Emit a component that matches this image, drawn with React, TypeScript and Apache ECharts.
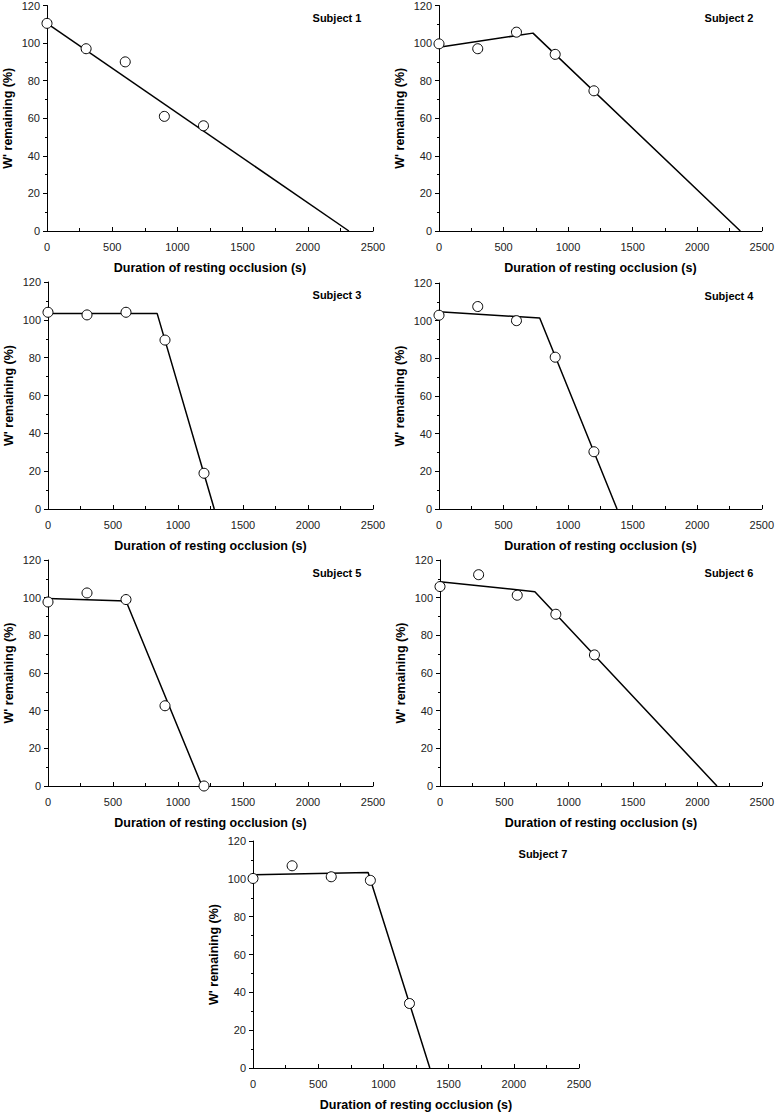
import React, { useEffect, useRef } from "react";
import * as echarts from "echarts";

const xTimes = [0, 300, 600, 900, 1200];
const subjectNames = ["Subject 1", "Subject 2", "Subject 3", "Subject 4", "Subject 5", "Subject 6", "Subject 7"];

const s1Points = [110.5, 97, 90, 61, 56];
const s2Points = [99.6, 97, 105.8, 94, 74.6];
const s3Points = [104, 102.6, 104, 89.3, 18.9];
const s4Points = [102.9, 107.5, 100, 80.6, 30.4];
const s5Points = [97.7, 102.5, 99, 42.6, 0];
const s6Points = [105.9, 112.2, 101.3, 91.2, 69.6];
const s7Points = [100.2, 106.9, 101.1, 99.2, 34.1];

const s1Fit: number[][] = [[0, 110.5], [2315, 0]];
const s2Fit: number[][] = [[0, 97.8], [728, 105.3], [2334, 0]];
const s3Fit: number[][] = [[0, 103.3], [840, 103.3], [1279, 0]];
const s4Fit: number[][] = [[0, 104.8], [780, 101.4], [1379, 0]];
const s5Fit: number[][] = [[0, 99.5], [600, 98.2], [1185, 0]];
const s6Fit: number[][] = [[0, 108.4], [737, 103.2], [2152, 0]];
const s7Fit: number[][] = [[0, 102.2], [883, 103.4], [1356, 0]];

const allPoints = [s1Points, s2Points, s3Points, s4Points, s5Points, s6Points, s7Points];
const allFits = [s1Fit, s2Fit, s3Fit, s4Fit, s5Fit, s6Fit, s7Fit];

const xTitle = "Duration of resting occlusion (s)";
const yTitle = "W' remaining (%)";

// grid layout: left, top, width, height
const grids = [
  [47, 5, 326, 226],
  [439, 5, 326, 226],
  [48, 282, 325, 227],
  [439, 283, 326, 226],
  [48, 560, 325, 226],
  [440, 560, 325, 226],
  [253, 841, 326, 227],
];

const FONT = "Liberation Sans, Arial, sans-serif";

export default function App() {
  const ref = useRef<HTMLDivElement>(null);
  useEffect(() => {
    if (!ref.current) return;
    const chart = echarts.init(ref.current, undefined, { renderer: "svg" });
    const gridOpts: any[] = [];
    const xAxes: any[] = [];
    const yAxes: any[] = [];
    const series: any[] = [];
    const graphics: any[] = [];
    grids.forEach((g, i) => {
      const [l, t, w, h] = g;
      gridOpts.push({ left: l, top: t, width: w, height: h, containLabel: false });
      xAxes.push({
        type: "value",
        gridIndex: i,
        min: 0,
        max: 2500,
        interval: 500,
        name: xTitle,
        nameLocation: "middle",
        nameGap: 30,
        nameTextStyle: { fontFamily: FONT, fontWeight: "bold", fontSize: 12.5, color: "#000" },
        axisLine: { show: true, onZero: false, lineStyle: { color: "#000", width: 1 } },
        axisTick: { show: true, inside: true, length: 4, lineStyle: { color: "#000" } },
        minorTick: { show: true, splitNumber: 2, length: 3, lineStyle: { color: "#000" } },
        axisLabel: {
          fontFamily: FONT,
          fontSize: 11,
          color: "#222",
          margin: 10,
          formatter: (v: number) => String(v),
        },
        splitLine: { show: false },
      });
      yAxes.push({
        type: "value",
        gridIndex: i,
        min: 0,
        max: 120,
        interval: 20,
        name: yTitle,
        nameLocation: "middle",
        nameGap: 33,
        nameTextStyle: { fontFamily: FONT, fontWeight: "bold", fontSize: 12.5, color: "#000" },
        axisLine: { show: true, onZero: false, lineStyle: { color: "#000", width: 1 } },
        axisTick: { show: true, inside: false, length: 4, lineStyle: { color: "#000" } },
        minorTick: { show: true, splitNumber: 2, length: 2, lineStyle: { color: "#000" } },
        axisLabel: {
          fontFamily: FONT,
          fontSize: 11,
          color: "#222",
          margin: 7,
          formatter: (v: number) => String(v),
        },
        splitLine: { show: false },
      });
      series.push({
        type: "line",
        xAxisIndex: i,
        yAxisIndex: i,
        data: allFits[i],
        showSymbol: false,
        symbol: "none",
        lineStyle: { color: "#000", width: 1.5 },
        z: 2,
      });
      series.push({
        type: "scatter",
        xAxisIndex: i,
        yAxisIndex: i,
        data: xTimes.map((x, j) => [x, allPoints[i][j]]),
        symbol: "circle",
        symbolSize: 10,
        itemStyle: { color: "#fff", borderColor: "#000", borderWidth: 1, opacity: 1 },
        z: 3,
      });
      graphics.push({
        type: "text",
        x: l + w - 36,
        y: t + 13,
        style: {
          text: subjectNames[i],
          fontFamily: FONT,
          fontWeight: "bold",
          fontSize: 11,
          fill: "#000",
          align: "center",
          verticalAlign: "middle",
        },
      });
    });
    chart.setOption({
      animation: false,
      backgroundColor: "#fff",
      grid: gridOpts,
      xAxis: xAxes,
      yAxis: yAxes,
      series,
      graphic: graphics,
    });
    return () => chart.dispose();
  }, []);
  return (
    <div
      ref={ref}
      style={{ position: "absolute", left: 0, top: 0, width: 777, height: 1112 }}
    />
  );
}
